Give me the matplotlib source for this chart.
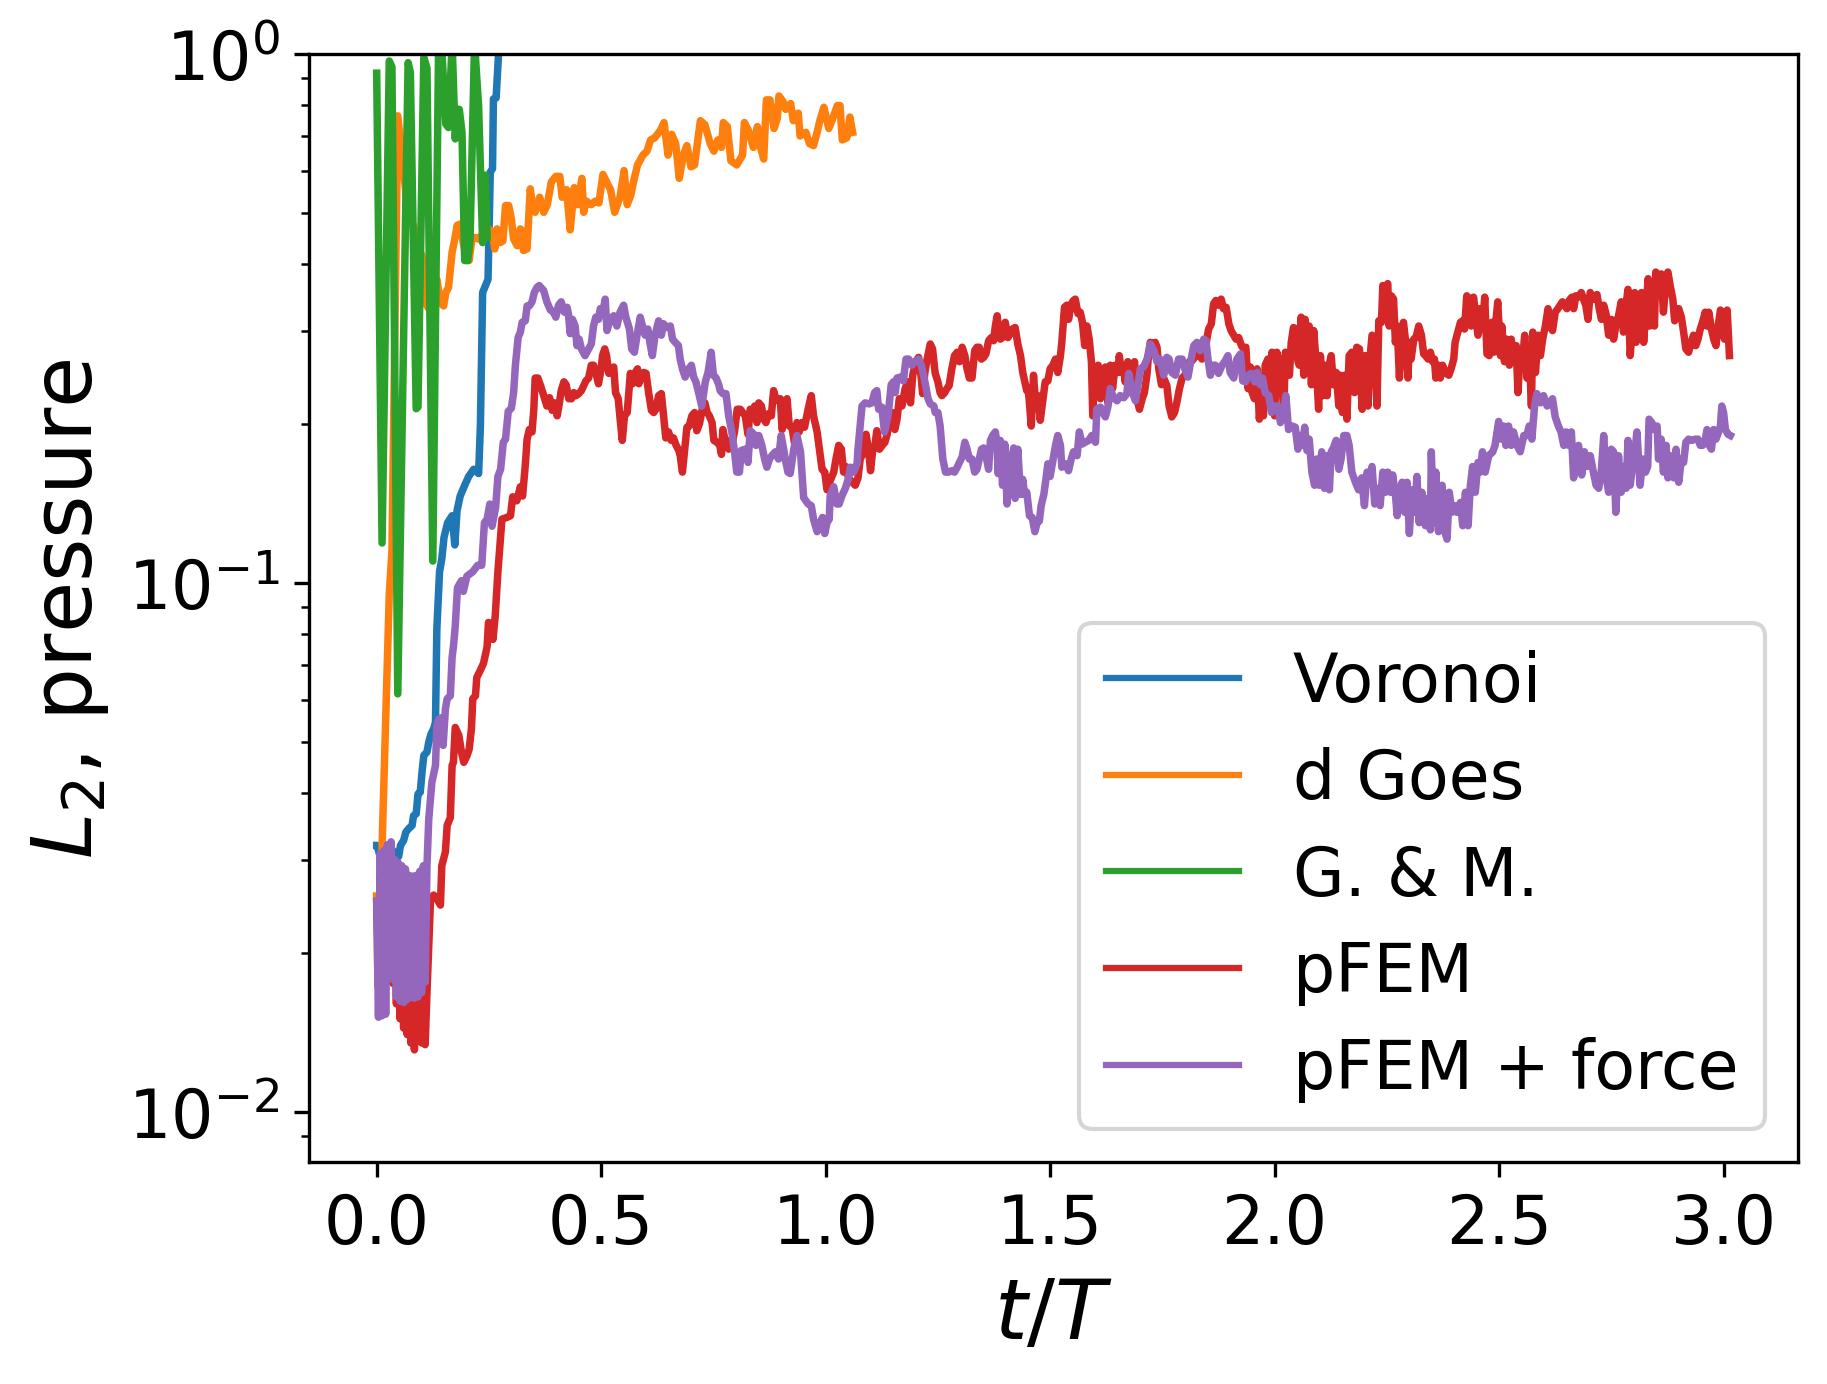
import matplotlib
matplotlib.use("Agg")
import matplotlib.pyplot as plt

# ---------------- data (t/T, L2 pressure error) ----------------
voronoi_pts = [
    (0.0, 0.0319), (0.001, 0.0319), (0.008, 0.0303), (0.019, 0.0310), (0.030, 0.0317),
    (0.038, 0.0310), (0.049, 0.0304), (0.053, 0.0319), (0.060, 0.0326), (0.065, 0.0338),
    (0.071, 0.0343), (0.079, 0.0348), (0.082, 0.0363), (0.088, 0.0366), (0.092, 0.0399),
    (0.097, 0.0402), (0.101, 0.0439), (0.105, 0.0472), (0.112, 0.0479), (0.116, 0.0500),
    (0.121, 0.0518), (0.127, 0.0530), (0.131, 0.0545), (0.134, 0.0819), (0.140, 0.105),
    (0.145, 0.111), (0.150, 0.122), (0.158, 0.130), (0.168, 0.134), (0.174, 0.118),
    (0.179, 0.137), (0.186, 0.146), (0.196, 0.153), (0.205, 0.159), (0.216, 0.164),
    (0.227, 0.161), (0.231, 0.198), (0.236, 0.354), (0.248, 0.375), (0.253, 0.598),
    (0.258, 0.607), (0.260, 0.822), (0.266, 0.826), (0.272, 1.02), (0.276, 1.3),
]

dgoes_pts = [
    (0.000, 0.0256), (0.003, 0.0172), (0.028, 0.095), (0.034, 0.115), (0.047, 0.764),
    (0.064, 0.556), (0.0675, 0.502), (0.071, 0.4875), (0.082, 0.474), (0.097, 0.422),
    (0.101, 0.416), (0.108, 0.339), (0.116, 0.330), (0.127, 0.334), (0.134, 0.375),
    (0.142, 0.339), (0.149, 0.334), (0.154, 0.354), (0.160, 0.362), (0.168, 0.422),
    (0.174, 0.447), (0.179, 0.474), (0.186, 0.477), (0.194, 0.434), (0.201, 0.407),
    (0.206, 0.407), (0.212, 0.447), (0.218, 0.450), (0.226, 0.447), (0.249, 0.467),
    (0.257, 0.461), (0.263, 0.428), (0.268, 0.467), (0.275, 0.440), (0.281, 0.443),
    (0.287, 0.517), (0.294, 0.517), (0.300, 0.4875), (0.305, 0.447), (0.313, 0.434),
    (0.320, 0.467), (0.324, 0.463), (0.327, 0.425), (0.335, 0.428), (0.342, 0.556),
    (0.347, 0.517), (0.353, 0.502), (0.355, 0.510), (0.363, 0.536), (0.372, 0.502),
    (0.380, 0.519), (0.389, 0.573), (0.399, 0.587), (0.408, 0.587), (0.413, 0.536),
    (0.423, 0.554), (0.431, 0.465), (0.440, 0.559), (0.448, 0.519), (0.457, 0.582),
    (0.461, 0.502), (0.467, 0.527), (0.478, 0.519), (0.487, 0.527), (0.495, 0.523),
    (0.504, 0.592), (0.512, 0.573), (0.521, 0.554), (0.530, 0.502), (0.542, 0.536),
    (0.551, 0.602), (0.558, 0.519), (0.566, 0.541), (0.572, 0.573), (0.581, 0.617),
    (0.593, 0.644), (0.602, 0.655), (0.610, 0.688), (0.619, 0.694), (0.632, 0.717),
    (0.640, 0.742), (0.649, 0.644), (0.657, 0.705), (0.666, 0.677), (0.674, 0.582),
    (0.683, 0.644), (0.691, 0.671), (0.700, 0.612), (0.708, 0.617), (0.721, 0.748),
    (0.731, 0.735), (0.743, 0.677), (0.751, 0.655), (0.760, 0.688), (0.768, 0.666),
    (0.772, 0.742), (0.781, 0.729), (0.789, 0.628), (0.802, 0.617), (0.815, 0.644),
    (0.819, 0.742), (0.828, 0.717), (0.839, 0.666), (0.848, 0.729), (0.853, 0.677),
    (0.862, 0.633), (0.868, 0.819), (0.876, 0.819), (0.885, 0.723), (0.892, 0.754),
    (0.896, 0.833), (0.905, 0.813), (0.911, 0.786), (0.922, 0.806), (0.928, 0.748),
    (0.939, 0.773), (0.943, 0.700), (0.956, 0.711), (0.964, 0.677), (0.973, 0.671),
    (0.981, 0.711), (0.987, 0.748), (0.996, 0.793), (1.007, 0.723), (1.014, 0.748),
    (1.026, 0.799), (1.032, 0.799), (1.037, 0.688), (1.047, 0.694), (1.054, 0.760),
    (1.060, 0.711),
]

gm_pts = [
    (0.0, 0.92), (0.012, 0.119), (0.028, 0.97), (0.034, 0.945), (0.047, 0.0617),
    (0.070, 0.963), (0.075, 0.923), (0.088, 0.2135), (0.092, 0.215), (0.105, 0.985),
    (0.112, 0.941), (0.125, 0.110), (0.138, 1.05), (0.145, 1.02), (0.154, 0.737),
    (0.160, 0.726), (0.168, 1.05), (0.175, 0.691), (0.179, 0.786), (0.184, 0.786),
    (0.190, 0.711), (0.196, 0.407), (0.203, 0.407), (0.208, 0.447), (0.218, 1.05),
    (0.227, 0.797), (0.236, 0.44), (0.242, 0.59), (0.246, 0.45),
]

pfem_pts = [
    (0.000, 0.0250), (0.004, 0.0190), (0.008, 0.0280), (0.012, 0.0185), (0.016, 0.0300),
    (0.020, 0.0190), (0.024, 0.0285), (0.028, 0.0180), (0.032, 0.0280), (0.036, 0.0175),
    (0.040, 0.0275), (0.044, 0.0160), (0.048, 0.0270), (0.052, 0.0150), (0.056, 0.0268),
    (0.060, 0.0144), (0.064, 0.0265), (0.068, 0.0140), (0.072, 0.0262), (0.076, 0.0135),
    (0.080, 0.0260), (0.084, 0.0131), (0.088, 0.0258), (0.092, 0.0138), (0.096, 0.0256),
    (0.100, 0.0135), (0.104, 0.0255), (0.108, 0.0134), (0.112, 0.0168),
    (0.120, 0.0253), (0.127, 0.0257), (0.134, 0.0253), (0.142, 0.0246), (0.145, 0.0292),
    (0.153, 0.0310), (0.157, 0.0348), (0.164, 0.0360), (0.168, 0.0452), (0.171, 0.0458),
    (0.175, 0.0533), (0.183, 0.0515), (0.189, 0.0478), (0.194, 0.0458), (0.201, 0.0471),
    (0.206, 0.0485), (0.211, 0.0530), (0.214, 0.0604), (0.220, 0.0612), (0.223, 0.0663),
    (0.231, 0.0684), (0.238, 0.0705), (0.246, 0.0758), (0.249, 0.0842), (0.257, 0.0836),
    (0.259, 0.0782), (0.264, 0.0866), (0.270, 0.105), (0.279, 0.132), (0.290, 0.133),
    (0.298, 0.134), (0.303, 0.1455), (0.312, 0.143), (0.320, 0.152), (0.325, 0.146),
    (0.331, 0.167), (0.335, 0.187), (0.340, 0.195), (0.346, 0.193), (0.350, 0.213),
    (0.353, 0.244), (0.359, 0.244),
    (0.365, 0.236), (0.370, 0.229), (0.374, 0.223), (0.379, 0.216), (0.385, 0.224),
    (0.391, 0.212), (0.396, 0.219), (0.402, 0.207), (0.407, 0.219), (0.411, 0.231),
    (0.417, 0.240), (0.422, 0.237), (0.428, 0.223), (0.434, 0.223), (0.439, 0.229),
    (0.444, 0.226), (0.450, 0.228), (0.456, 0.231), (0.461, 0.236), (0.466, 0.241),
    (0.472, 0.244), (0.478, 0.258), (0.483, 0.258), (0.488, 0.250), (0.494, 0.238),
    (0.500, 0.254), (0.503, 0.269), (0.508, 0.277), (0.512, 0.269), (0.517, 0.249),
    (0.523, 0.254), (0.528, 0.256), (0.532, 0.229), (0.538, 0.223), (0.543, 0.201),
    (0.547, 0.186), (0.552, 0.207), (0.558, 0.210), (0.565, 0.249), (0.570, 0.238),
    (0.576, 0.250), (0.581, 0.254), (0.584, 0.238), (0.590, 0.247), (0.595, 0.250),
    (0.600, 0.249), (0.606, 0.228), (0.612, 0.212), (0.617, 0.210), (0.622, 0.213),
    (0.628, 0.226), (0.634, 0.228), (0.639, 0.207), (0.644, 0.188), (0.650, 0.193),
    (0.656, 0.186), (0.661, 0.188), (0.667, 0.182), (0.673, 0.178), (0.676, 0.174),
    (0.681, 0.162), (0.686, 0.179), (0.691, 0.197), (0.696, 0.198), (0.702, 0.207),
    (0.708, 0.210), (0.713, 0.194), (0.719, 0.200), (0.725, 0.213), (0.731, 0.219),
    (0.736, 0.210), (0.741, 0.207), (0.747, 0.201), (0.751, 0.186), (0.758, 0.1845),
    (0.764, 0.182), (0.768, 0.175), (0.771, 0.195), (0.777, 0.1845), (0.784, 0.179),
    (0.788, 0.186), (0.793, 0.186), (0.797, 0.193), (0.803, 0.213), (0.810, 0.213),
    (0.815, 0.210), (0.821, 0.207), (0.827, 0.191), (0.832, 0.213), (0.837, 0.207),
    (0.842, 0.216), (0.847, 0.201), (0.851, 0.219), (0.857, 0.216), (0.862, 0.204),
    (0.867, 0.201), (0.873, 0.209), (0.879, 0.207), (0.884, 0.231), (0.889, 0.223),
    (0.894, 0.221), (0.899, 0.223), (0.903, 0.195), (0.909, 0.207), (0.914, 0.223),
    (0.919, 0.198), (0.925, 0.197), (0.931, 0.183), (0.936, 0.201), (0.941, 0.193),
    (0.947, 0.201), (0.953, 0.197), (0.958, 0.207), (0.964, 0.219), (0.968, 0.226),
    (0.973, 0.207), (0.981, 0.193), (0.988, 0.174), (0.992, 0.164), (0.998, 0.162),
    (1.003, 0.150), (1.010, 0.156), (1.018, 0.162), (1.023, 0.1715), (1.029, 0.182),
    (1.035, 0.179), (1.040, 0.162), (1.045, 0.166), (1.051, 0.158), (1.059, 0.155),
    (1.066, 0.153), (1.072, 0.158), (1.077, 0.1715), (1.085, 0.177), (1.090, 0.191),
    (1.096, 0.177), (1.100, 0.163), (1.105, 0.179), (1.109, 0.180), (1.114, 0.194),
    (1.120, 0.179), (1.126, 0.182), (1.132, 0.1845), (1.137, 0.191), (1.142, 0.204),
    (1.148, 0.210), (1.154, 0.195), (1.159, 0.204), (1.164, 0.223), (1.170, 0.216),
    (1.177, 0.233), (1.183, 0.240), (1.189, 0.219), (1.194, 0.247), (1.200, 0.262),
    (1.207, 0.267), (1.213, 0.244), (1.216, 0.228), (1.221, 0.250), (1.226, 0.265),
    (1.233, 0.283), (1.238, 0.277), (1.244, 0.249), (1.250, 0.240), (1.255, 0.229),
    (1.259, 0.226), (1.265, 0.229), (1.270, 0.233), (1.275, 0.236), (1.281, 0.254),
    (1.287, 0.269), (1.293, 0.273), (1.298, 0.262), (1.304, 0.279), (1.310, 0.269),
    (1.315, 0.254), (1.320, 0.244), (1.326, 0.244), (1.332, 0.275), (1.337, 0.279),
    (1.342, 0.279), (1.347, 0.265), (1.352, 0.267), (1.357, 0.271), (1.363, 0.287),
    (1.369, 0.291), (1.374, 0.287), (1.378, 0.306), (1.382, 0.320), (1.385, 0.302),
    (1.389, 0.289), (1.394, 0.291), (1.400, 0.311), (1.406, 0.291), (1.411, 0.296),
    (1.416, 0.302), (1.422, 0.304), (1.428, 0.283), (1.434, 0.269), (1.439, 0.250),
    (1.445, 0.237), (1.448, 0.231), (1.452, 0.229), (1.458, 0.198), (1.463, 0.247),
    (1.468, 0.216), (1.473, 0.226), (1.478, 0.203), (1.483, 0.219), (1.489, 0.240),
    (1.495, 0.241), (1.500, 0.254), (1.506, 0.258), (1.512, 0.265), (1.517, 0.250),
    (1.523, 0.269), (1.526, 0.285), (1.532, 0.332), (1.537, 0.335), (1.541, 0.315),
    (1.547, 0.337), (1.552, 0.342), (1.556, 0.344), (1.562, 0.323), (1.567, 0.325),
    (1.572, 0.311), (1.577, 0.281), (1.582, 0.306), (1.587, 0.289), (1.592, 0.262),
    (1.595, 0.207), (1.599, 0.254), (1.602, 0.244), (1.607, 0.258), (1.612, 0.223),
    (1.615, 0.250), (1.619, 0.229), (1.623, 0.256), (1.629, 0.219), (1.634, 0.258),
    (1.639, 0.233), (1.645, 0.258), (1.651, 0.250), (1.654, 0.269), (1.659, 0.250),
    (1.664, 0.256), (1.667, 0.240), (1.673, 0.262), (1.679, 0.250), (1.684, 0.254),
    (1.688, 0.262), (1.693, 0.223), (1.699, 0.213), (1.705, 0.223), (1.710, 0.229),
    (1.716, 0.249), (1.719, 0.269), (1.723, 0.285), (1.728, 0.283), (1.734, 0.285),
    (1.738, 0.279), (1.742, 0.254), (1.748, 0.237), (1.753, 0.244), (1.760, 0.236),
    (1.765, 0.216), (1.771, 0.206), (1.777, 0.210), (1.782, 0.219), (1.788, 0.233),
    (1.794, 0.244), (1.800, 0.247), (1.805, 0.254), (1.810, 0.262), (1.816, 0.263),
    (1.822, 0.267), (1.827, 0.269), (1.832, 0.273), (1.838, 0.265), (1.844, 0.271),
    (1.849, 0.289), (1.853, 0.302), (1.859, 0.309), (1.864, 0.337), (1.869, 0.342),
    (1.875, 0.335), (1.881, 0.344), (1.886, 0.330), (1.892, 0.332), (1.898, 0.309),
    (1.903, 0.300), (1.909, 0.294), (1.914, 0.289), (1.920, 0.291), (1.926, 0.281),
    (1.931, 0.277), (1.936, 0.279), (1.941, 0.233), (1.946, 0.256), (1.950, 0.229),
    (1.955, 0.223), (1.961, 0.254), (1.966, 0.204), (1.972, 0.233), (1.975, 0.207),
    (1.979, 0.258), (1.985, 0.265), (1.990, 0.233), (1.994, 0.273), (2.000, 0.207),
    (2.005, 0.273), (2.010, 0.229), (2.015, 0.265), (2.020, 0.206), (2.024, 0.273),
    (2.027, 0.265), (2.033, 0.247), (2.037, 0.285), (2.042, 0.304), (2.048, 0.302),
    (2.052, 0.262), (2.055, 0.258), (2.059, 0.318), (2.065, 0.247), (2.068, 0.315),
    (2.072, 0.279), (2.077, 0.306), (2.082, 0.237), (2.087, 0.300), (2.092, 0.265),
    (2.098, 0.213), (2.102, 0.269), (2.107, 0.226), (2.111, 0.258), (2.117, 0.226),
    (2.120, 0.254), (2.126, 0.269), (2.131, 0.237), (2.137, 0.250), (2.143, 0.216),
    (2.146, 0.247), (2.151, 0.210), (2.156, 0.247), (2.161, 0.204), (2.166, 0.269),
    (2.172, 0.273), (2.178, 0.229), (2.183, 0.279), (2.189, 0.277), (2.195, 0.213),
    (2.198, 0.254), (2.202, 0.269), (2.208, 0.216), (2.213, 0.269), (2.217, 0.294),
    (2.223, 0.289), (2.228, 0.216), (2.232, 0.313), (2.238, 0.311), (2.241, 0.365),
    (2.247, 0.359), (2.252, 0.368), (2.255, 0.306), (2.260, 0.349), (2.265, 0.344),
    (2.269, 0.285), (2.273, 0.306), (2.278, 0.244), (2.282, 0.294), (2.287, 0.311),
    (2.292, 0.285), (2.297, 0.244), (2.300, 0.285), (2.304, 0.265), (2.310, 0.289),
    (2.315, 0.291), (2.321, 0.306), (2.327, 0.294), (2.332, 0.271), (2.336, 0.269),
    (2.342, 0.265), (2.347, 0.273), (2.352, 0.262), (2.356, 0.265), (2.359, 0.244),
    (2.364, 0.258), (2.369, 0.244), (2.374, 0.258), (2.380, 0.250), (2.388, 0.247),
    (2.393, 0.254), (2.399, 0.265), (2.402, 0.285), (2.408, 0.298), (2.414, 0.311),
    (2.419, 0.313), (2.423, 0.302), (2.428, 0.349), (2.434, 0.344), (2.438, 0.306),
    (2.443, 0.347), (2.448, 0.320), (2.453, 0.294), (2.458, 0.330), (2.463, 0.302),
    (2.468, 0.347), (2.473, 0.271), (2.478, 0.269), (2.484, 0.311), (2.488, 0.273),
    (2.493, 0.313), (2.497, 0.340), (2.503, 0.269), (2.506, 0.306), (2.512, 0.262),
    (2.517, 0.289), (2.523, 0.258), (2.527, 0.289), (2.532, 0.265), (2.538, 0.281),
    (2.542, 0.229), (2.547, 0.273), (2.552, 0.262), (2.557, 0.294), (2.562, 0.244),
    (2.567, 0.277), (2.572, 0.216), (2.575, 0.298), (2.581, 0.250), (2.587, 0.294),
    (2.592, 0.269), (2.597, 0.289), (2.603, 0.306), (2.609, 0.330), (2.614, 0.306),
    (2.619, 0.300), (2.625, 0.325), (2.631, 0.330), (2.636, 0.335), (2.641, 0.340),
    (2.646, 0.335), (2.651, 0.330), (2.656, 0.342), (2.662, 0.347), (2.666, 0.330),
    (2.671, 0.349), (2.677, 0.347), (2.683, 0.354), (2.688, 0.344), (2.693, 0.335),
    (2.698, 0.315), (2.703, 0.354), (2.708, 0.344), (2.713, 0.344), (2.718, 0.351),
    (2.723, 0.330), (2.728, 0.315), (2.733, 0.335), (2.738, 0.323), (2.744, 0.294),
    (2.750, 0.315), (2.755, 0.289), (2.760, 0.306), (2.766, 0.320), (2.772, 0.340),
    (2.777, 0.298), (2.781, 0.325), (2.787, 0.359), (2.792, 0.269), (2.797, 0.306),
    (2.802, 0.354), (2.805, 0.285), (2.811, 0.315), (2.817, 0.354), (2.822, 0.285),
    (2.826, 0.320), (2.832, 0.376), (2.835, 0.306), (2.840, 0.365), (2.846, 0.306),
    (2.849, 0.387), (2.855, 0.371), (2.861, 0.384), (2.866, 0.325), (2.872, 0.376),
    (2.876, 0.387), (2.881, 0.365), (2.887, 0.344), (2.891, 0.313), (2.896, 0.330),
    (2.900, 0.330), (2.906, 0.318), (2.911, 0.298), (2.916, 0.277), (2.922, 0.273),
    (2.928, 0.285), (2.933, 0.294), (2.938, 0.281), (2.943, 0.289), (2.948, 0.302),
    (2.953, 0.311), (2.959, 0.325), (2.963, 0.306), (2.967, 0.325), (2.973, 0.302),
    (2.978, 0.289), (2.983, 0.281), (2.987, 0.302), (2.993, 0.328), (2.998, 0.320),
    (3.002, 0.289), (3.008, 0.328), (3.013, 0.269),
]

pfem_force_pts = [
    (0.000, 0.0250), (0.004, 0.0151), (0.008, 0.0308), (0.012, 0.0152), (0.016, 0.0312),
    (0.020, 0.0153), (0.024, 0.0320), (0.028, 0.0185), (0.032, 0.0324), (0.036, 0.0178),
    (0.040, 0.0300), (0.044, 0.0165), (0.048, 0.0296), (0.052, 0.0162), (0.056, 0.0292),
    (0.060, 0.0161), (0.064, 0.0288), (0.068, 0.0163), (0.072, 0.0280), (0.076, 0.0165),
    (0.080, 0.0279), (0.084, 0.0164), (0.088, 0.0280), (0.092, 0.0165), (0.096, 0.0285),
    (0.100, 0.0168), (0.104, 0.0292), (0.108, 0.0176), (0.112, 0.0292),
    (0.116, 0.0358), (0.123, 0.0420), (0.131, 0.0452), (0.134, 0.0537), (0.138, 0.0552),
    (0.144, 0.0556), (0.148, 0.0493), (0.153, 0.0577), (0.157, 0.0604), (0.164, 0.0612),
    (0.168, 0.0724), (0.171, 0.0758), (0.175, 0.0829), (0.180, 0.098), (0.189, 0.101),
    (0.193, 0.0964), (0.201, 0.103), (0.214, 0.105), (0.225, 0.108), (0.234, 0.108),
    (0.240, 0.130), (0.246, 0.132), (0.252, 0.141), (0.257, 0.128), (0.265, 0.139),
    (0.270, 0.159), (0.276, 0.164), (0.282, 0.1845), (0.287, 0.187), (0.293, 0.211),
    (0.300, 0.214), (0.305, 0.229), (0.309, 0.258), (0.315, 0.291), (0.320, 0.298),
    (0.324, 0.311), (0.331, 0.313), (0.335, 0.334), (0.340, 0.334), (0.346, 0.340),
    (0.351, 0.354), (0.357, 0.362), (0.362, 0.365),
    (0.372, 0.357), (0.379, 0.340), (0.387, 0.328), (0.394, 0.325), (0.399, 0.318),
    (0.405, 0.335), (0.411, 0.340), (0.418, 0.325), (0.424, 0.332), (0.427, 0.323),
    (0.431, 0.296), (0.436, 0.315), (0.442, 0.306), (0.446, 0.281), (0.451, 0.289),
    (0.456, 0.277), (0.464, 0.269), (0.472, 0.277), (0.478, 0.283), (0.483, 0.306),
    (0.488, 0.318), (0.494, 0.315), (0.498, 0.330), (0.503, 0.323), (0.509, 0.344),
    (0.513, 0.300), (0.520, 0.315), (0.528, 0.320), (0.535, 0.306), (0.542, 0.325),
    (0.550, 0.335), (0.555, 0.318), (0.563, 0.302), (0.568, 0.277), (0.574, 0.273),
    (0.580, 0.294), (0.587, 0.318), (0.592, 0.306), (0.598, 0.294), (0.604, 0.302),
    (0.609, 0.283), (0.614, 0.269), (0.620, 0.294), (0.628, 0.313), (0.634, 0.294),
    (0.639, 0.309), (0.646, 0.304), (0.654, 0.306), (0.659, 0.289), (0.665, 0.285),
    (0.672, 0.281), (0.676, 0.265), (0.681, 0.254), (0.687, 0.245), (0.695, 0.254),
    (0.701, 0.258), (0.706, 0.245), (0.711, 0.240), (0.717, 0.229), (0.724, 0.216),
    (0.732, 0.240), (0.738, 0.250), (0.745, 0.273), (0.750, 0.247), (0.756, 0.244),
    (0.762, 0.237), (0.765, 0.231), (0.771, 0.228), (0.778, 0.228), (0.784, 0.207),
    (0.791, 0.193), (0.797, 0.177), (0.802, 0.162), (0.808, 0.162), (0.812, 0.178),
    (0.821, 0.179), (0.827, 0.169), (0.832, 0.194), (0.840, 0.191), (0.845, 0.182),
    (0.851, 0.190), (0.858, 0.182), (0.864, 0.1715), (0.869, 0.1655), (0.875, 0.1715),
    (0.880, 0.174), (0.888, 0.177), (0.895, 0.1715), (0.901, 0.190), (0.907, 0.178),
    (0.910, 0.1715), (0.916, 0.162), (0.921, 0.161), (0.929, 0.179), (0.936, 0.190),
    (0.944, 0.177), (0.951, 0.145), (0.961, 0.141), (0.968, 0.140), (0.973, 0.132),
    (0.981, 0.125), (0.988, 0.130), (0.993, 0.133), (0.998, 0.124), (1.003, 0.130),
    (1.008, 0.132), (1.010, 0.146), (1.018, 0.152), (1.025, 0.141), (1.030, 0.141),
    (1.036, 0.146), (1.044, 0.151), (1.051, 0.158), (1.055, 0.1655), (1.062, 0.162),
    (1.070, 0.168), (1.072, 0.179), (1.081, 0.216), (1.088, 0.219), (1.097, 0.218),
    (1.103, 0.219), (1.109, 0.229), (1.114, 0.231), (1.118, 0.213), (1.125, 0.215),
    (1.131, 0.193), (1.139, 0.207), (1.146, 0.237), (1.151, 0.240), (1.155, 0.229),
    (1.159, 0.244), (1.166, 0.245), (1.173, 0.241), (1.179, 0.265), (1.185, 0.265),
    (1.192, 0.258), (1.199, 0.262),
    (1.207, 0.265), (1.213, 0.258), (1.218, 0.247), (1.222, 0.238), (1.228, 0.223),
    (1.233, 0.218), (1.241, 0.216), (1.244, 0.210), (1.250, 0.210), (1.255, 0.198),
    (1.261, 0.1715), (1.267, 0.162), (1.274, 0.162), (1.281, 0.163), (1.287, 0.162),
    (1.293, 0.1655), (1.298, 0.169), (1.304, 0.173), (1.310, 0.1845), (1.315, 0.179),
    (1.320, 0.1715), (1.326, 0.1715), (1.332, 0.162), (1.337, 0.164), (1.342, 0.1715),
    (1.347, 0.179), (1.352, 0.180), (1.357, 0.174), (1.363, 0.164), (1.367, 0.186),
    (1.372, 0.190), (1.378, 0.193), (1.382, 0.182), (1.384, 0.161), (1.389, 0.186),
    (1.394, 0.153), (1.399, 0.183), (1.404, 0.141), (1.409, 0.164), (1.414, 0.1715),
    (1.419, 0.180), (1.422, 0.1445), (1.428, 0.179), (1.434, 0.147), (1.439, 0.157),
    (1.443, 0.147), (1.448, 0.1484), (1.454, 0.134), (1.460, 0.133), (1.466, 0.125),
    (1.471, 0.130), (1.476, 0.131), (1.480, 0.140), (1.486, 0.147), (1.491, 0.158),
    (1.495, 0.168), (1.500, 0.159), (1.506, 0.170), (1.512, 0.182), (1.517, 0.190),
    (1.523, 0.182), (1.526, 0.1655), (1.534, 0.168), (1.541, 0.163), (1.547, 0.1715),
    (1.552, 0.177), (1.560, 0.174), (1.565, 0.193), (1.571, 0.183), (1.578, 0.1845),
    (1.586, 0.186), (1.593, 0.190), (1.601, 0.1845), (1.604, 0.213), (1.612, 0.215),
    (1.617, 0.210), (1.623, 0.206), (1.629, 0.216), (1.634, 0.233), (1.641, 0.224),
    (1.649, 0.221), (1.656, 0.226), (1.664, 0.224), (1.671, 0.228), (1.675, 0.249),
    (1.682, 0.231), (1.690, 0.221), (1.696, 0.238), (1.701, 0.254), (1.708, 0.256),
    (1.716, 0.265), (1.723, 0.283), (1.731, 0.275), (1.738, 0.262), (1.745, 0.265),
    (1.753, 0.247), (1.760, 0.267), (1.765, 0.265), (1.771, 0.250), (1.779, 0.247),
    (1.786, 0.265), (1.794, 0.265), (1.800, 0.254), (1.807, 0.245), (1.814, 0.265),
    (1.820, 0.281), (1.827, 0.285), (1.834, 0.275), (1.842, 0.289), (1.847, 0.287),
    (1.852, 0.263), (1.857, 0.247), (1.862, 0.258), (1.868, 0.258), (1.875, 0.249),
    (1.883, 0.258), (1.890, 0.263), (1.896, 0.269), (1.901, 0.250), (1.909, 0.244),
    (1.916, 0.265), (1.924, 0.271), (1.929, 0.241), (1.935, 0.240), (1.941, 0.247),
    (1.948, 0.249), (1.956, 0.240), (1.961, 0.250), (1.968, 0.237), (1.973, 0.244),
    (1.979, 0.229), (1.987, 0.226), (1.993, 0.210), (2.000, 0.216), (2.007, 0.216),
    (2.013, 0.201), (2.020, 0.210), (2.025, 0.226), (2.031, 0.195), (2.039, 0.198),
    (2.046, 0.197), (2.052, 0.179),
    (2.057, 0.190), (2.062, 0.182), (2.067, 0.197), (2.072, 0.178), (2.077, 0.187),
    (2.083, 0.162), (2.089, 0.153), (2.094, 0.1715), (2.099, 0.153), (2.105, 0.177),
    (2.111, 0.151), (2.117, 0.174), (2.122, 0.150), (2.126, 0.177), (2.131, 0.180),
    (2.137, 0.186), (2.143, 0.164), (2.148, 0.1715), (2.154, 0.190), (2.161, 0.190),
    (2.166, 0.182), (2.172, 0.162), (2.180, 0.155), (2.187, 0.150), (2.194, 0.158),
    (2.200, 0.140), (2.206, 0.162), (2.211, 0.155), (2.217, 0.166), (2.223, 0.141),
    (2.228, 0.151), (2.235, 0.140), (2.241, 0.162), (2.247, 0.1484), (2.252, 0.162),
    (2.258, 0.1484), (2.263, 0.160), (2.269, 0.147), (2.273, 0.134), (2.278, 0.1484),
    (2.284, 0.155), (2.290, 0.136), (2.295, 0.155), (2.300, 0.124), (2.306, 0.150),
    (2.312, 0.136), (2.317, 0.159), (2.322, 0.130), (2.328, 0.1484), (2.336, 0.1283),
    (2.341, 0.1445), (2.347, 0.126), (2.349, 0.177), (2.354, 0.130), (2.359, 0.162),
    (2.365, 0.125), (2.373, 0.153), (2.379, 0.125), (2.384, 0.121), (2.389, 0.1484),
    (2.395, 0.136), (2.401, 0.140), (2.406, 0.136), (2.414, 0.142), (2.419, 0.1283),
    (2.425, 0.1484), (2.431, 0.1283), (2.436, 0.153), (2.441, 0.166), (2.447, 0.1484),
    (2.453, 0.169), (2.458, 0.162), (2.463, 0.177), (2.469, 0.162), (2.477, 0.174),
    (2.486, 0.177), (2.491, 0.182), (2.499, 0.202), (2.505, 0.187), (2.510, 0.198),
    (2.515, 0.182), (2.521, 0.198), (2.527, 0.182), (2.532, 0.193), (2.540, 0.182),
    (2.547, 0.177), (2.555, 0.190), (2.562, 0.190), (2.567, 0.198), (2.573, 0.187),
    (2.579, 0.216), (2.584, 0.228), (2.592, 0.219), (2.599, 0.226), (2.607, 0.216),
    (2.614, 0.219), (2.619, 0.223), (2.625, 0.206), (2.632, 0.198), (2.638, 0.193),
    (2.644, 0.182), (2.649, 0.193), (2.655, 0.182), (2.661, 0.193), (2.666, 0.158),
    (2.671, 0.177), (2.677, 0.182), (2.684, 0.160), (2.690, 0.177), (2.696, 0.166),
    (2.703, 0.174), (2.710, 0.162), (2.716, 0.153), (2.722, 0.151), (2.728, 0.164),
    (2.733, 0.190), (2.738, 0.160), (2.744, 0.1484), (2.750, 0.179), (2.755, 0.177),
    (2.760, 0.136), (2.766, 0.174), (2.772, 0.1484), (2.777, 0.166), (2.783, 0.151),
    (2.787, 0.186), (2.792, 0.153), (2.797, 0.166), (2.803, 0.179), (2.807, 0.193),
    (2.814, 0.153), (2.820, 0.1715), (2.826, 0.162), (2.831, 0.166), (2.834, 0.204),
    (2.840, 0.201), (2.846, 0.195), (2.852, 0.198), (2.855, 0.1715), (2.861, 0.187),
    (2.866, 0.162), (2.872, 0.182), (2.876, 0.158), (2.881, 0.174), (2.889, 0.158),
    (2.894, 0.179), (2.900, 0.155), (2.906, 0.1715), (2.911, 0.169), (2.916, 0.1845),
    (2.922, 0.187), (2.929, 0.186), (2.937, 0.187), (2.943, 0.187), (2.948, 0.182),
    (2.953, 0.182), (2.959, 0.186), (2.963, 0.195), (2.968, 0.182), (2.973, 0.179),
    (2.978, 0.195), (2.983, 0.187), (2.989, 0.193), (2.993, 0.198), (2.996, 0.216),
    (3.000, 0.210), (3.004, 0.195), (3.010, 0.191), (3.015, 0.190),
]

labels = ["Voronoi", "d Goes", "G. & M.", "pFEM", "pFEM + force"]
colors = ["#1f77b4", "#ff7f0e", "#2ca02c", "#d62728", "#9467bd"]
series = [voronoi_pts, dgoes_pts, gm_pts, pfem_pts, pfem_force_pts]

# ---------------- figure ----------------
W, H = 1827, 1385
fig = plt.figure(figsize=(W / 300, H / 300), dpi=300)
ax = fig.add_axes([309 / W, 1 - 1163 / H, 1489 / W, 1108 / H])

for pts, lab, col in zip(series, labels, colors):
    t = [p[0] for p in pts]
    v = [p[1] for p in pts]
    ax.plot(t, v, color=col, lw=1.8, label=lab)

ax.set_yscale("log")
ax.set_ylim(8.04e-3, 1.0)
ax.tick_params(labelsize=16)
ax.set_xlabel(r"$t/T$", fontsize=20)
ax.set_ylabel(r"$L_2$, pressure", fontsize=20)
leg = ax.legend(loc="lower right", fontsize=16, labelspacing=0.46)
for ln in leg.get_lines():
    ln.set_linewidth(1.5)

fig.savefig("out.png", dpi=300)
